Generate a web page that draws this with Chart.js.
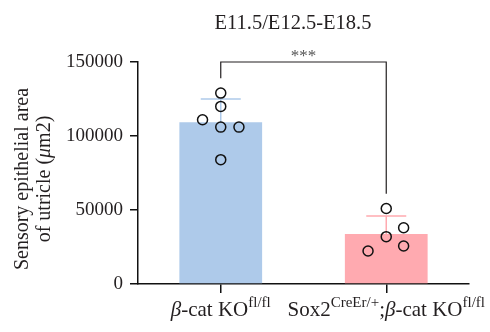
<!DOCTYPE html>
<html>
<head>
<meta charset="utf-8">
<script src="https://cdn.jsdelivr.net/npm/chart.js@4.4.1/dist/chart.umd.min.js"></script>
<style>
  html, body { margin: 0; padding: 0; background: #fff; }
  #wrap { width: 490px; height: 332px; position: relative; }
</style>
</head>
<body>
<div id="wrap"><canvas id="bars"></canvas></div>
<script>
// data
const categories = ['β-cat KO^fl/fl', 'Sox2^CreEr/+;β-cat KO^fl/fl'];
const means = [109300, 33800];
const sds = [15700, 12200];
const pointsA = [129000, 120000, 111000, 106000, 106000, 84000];
const jitterA = [0, 0, -0.11, 0, 0.11, 0];
const pointsB = [51000, 38000, 32000, 25700, 22300];
const jitterB = [0, 0.105, 0, 0.105, -0.11];
const yTicks = [0, 50000, 100000, 150000];
const titleText = 'E11.5/E12.5-E18.5';
const sig = { label: '***', top: 150000, leftEnd: 139000, rightEnd: 61000 };

const barColors = ['#aecaea', '#ffaab0'];
const FONT = '"Liberation Serif", "Times New Roman", serif';
const INK = '#231f20';

var pts = [];
pointsA.forEach(function (v, i) { pts.push({ x: 0 + jitterA[i], y: v }); });
pointsB.forEach(function (v, i) { pts.push({ x: 1 + jitterB[i], y: v }); });

// draws "text^sup" with italic beta, centred at x
function richText(ctx, str, x, y, size) {
  var parts = [];
  str.split(';').forEach(function (seg, si) {
    if (si > 0) parts.push({ t: ';', s: 0 });
    var bits = seg.split('^');
    bits[0].split(/(β)/).forEach(function (b) {
      if (b) parts.push({ t: b, s: b === 'β' ? 1 : 0 });
    });
    if (bits[1]) parts.push({ t: bits[1], s: 2 });
  });
  function font(p) {
    if (p.s === 1) return 'italic ' + size + 'px ' + FONT;
    if (p.s === 2) return Math.round(size * 0.7) + 'px ' + FONT;
    return size + 'px ' + FONT;
  }
  var w = 0;
  parts.forEach(function (p) { ctx.font = font(p); p.w = ctx.measureText(p.t).width; w += p.w; });
  var cx = x - w / 2;
  ctx.textAlign = 'left';
  ctx.textBaseline = 'alphabetic';
  parts.forEach(function (p) {
    ctx.font = font(p);
    ctx.fillText(p.t, cx, p.s === 2 ? y - size * 0.42 : y);
    cx += p.w;
  });
}

const extras = {
  id: 'extras',
  afterDatasetDraw: function (chart, args) {
    if (args.meta.type !== 'bar') return;
    var ctx = chart.ctx, x = chart.scales.x, y = chart.scales.y;
    ctx.save();
    ctx.lineWidth = 1.5;
    means.forEach(function (m, i) {
      var cx = x.getPixelForValue(i);
      var top = y.getPixelForValue(m + sds[i]);
      ctx.strokeStyle = barColors[i];
      ctx.beginPath();
      ctx.moveTo(cx, y.getPixelForValue(m));
      ctx.lineTo(cx, top);
      ctx.moveTo(cx - 20, top);
      ctx.lineTo(cx + 20, top);
      ctx.stroke();
    });
    ctx.restore();
  },
  afterDraw: function (chart) {
    var ctx = chart.ctx, x = chart.scales.x, y = chart.scales.y;
    ctx.save();
    ctx.fillStyle = INK;
    // title
    ctx.font = '20.5px ' + FONT;
    ctx.textAlign = 'center';
    ctx.textBaseline = 'alphabetic';
    ctx.fillText(titleText, 293, 29);
    // significance bracket
    var x0 = x.getPixelForValue(0), x1 = x.getPixelForValue(1);
    var yt = y.getPixelForValue(sig.top);
    ctx.strokeStyle = INK;
    ctx.lineWidth = 1.2;
    ctx.beginPath();
    ctx.moveTo(x0, y.getPixelForValue(sig.leftEnd));
    ctx.lineTo(x0, yt);
    ctx.lineTo(x1, yt);
    ctx.lineTo(x1, y.getPixelForValue(sig.rightEnd));
    ctx.stroke();
    ctx.font = '17px ' + FONT;
    ctx.fillStyle = '#555';
    ctx.fillText(sig.label, (x0 + x1) / 2, yt - 1);
    ctx.fillStyle = INK;
    // category labels
    categories.forEach(function (c, i) {
      richText(ctx, c, x.getPixelForValue(i), 316, 21);
    });
    // y axis title
    ctx.translate(0, 179);
    ctx.rotate(-Math.PI / 2);
    ctx.font = '20px ' + FONT;
    ctx.textAlign = 'center';
    ctx.fillText('Sensory epithelial area', 0, 28);
    var a = 'of utricle (', b = 'μ', c = 'm2)';
    var wa = ctx.measureText(a).width, wc = ctx.measureText(c).width;
    ctx.font = 'italic 20px ' + FONT;
    var wb = ctx.measureText(b).width;
    var sx = -(wa + wb + wc) / 2;
    ctx.textAlign = 'left';
    ctx.font = '20px ' + FONT;
    ctx.fillText(a, sx, 50);
    ctx.font = 'italic 20px ' + FONT;
    ctx.fillText(b, sx + wa, 50);
    ctx.font = '20px ' + FONT;
    ctx.fillText(c, sx + wa + wb, 50);
    ctx.restore();
  }
};

new Chart(document.getElementById('bars'), {
  type: 'bar',
  data: {
    labels: categories,
    datasets: [{
      data: means,
      backgroundColor: barColors,
      borderWidth: 0,
      barPercentage: 0.5,
      categoryPercentage: 1,
      grouped: false,
      order: 2
    }, {
      type: 'scatter',
      data: pts,
      xAxisID: 'xp',
      pointRadius: 5,
      pointBorderWidth: 1.5,
      pointBorderColor: '#111',
      pointBackgroundColor: 'rgba(0,0,0,0)',
      order: 1
    }]
  },
  options: {
    responsive: true,
    maintainAspectRatio: false,
    animation: false,
    layout: { padding: { left: 0, right: 21, top: 62, bottom: 0 } },
    plugins: {
      legend: { display: false },
      tooltip: { enabled: false },
      title: { display: false }
    },
    scales: {
      x: {
        border: { color: '#111', width: 1.5 },
        grid: { offset: false, drawOnChartArea: false, drawTicks: true, tickLength: 9, color: '#111', lineWidth: 1.5 },
        ticks: { color: 'rgba(0,0,0,0)', font: { family: FONT, size: 19 } },
        afterFit: function (s) { s.height = 48; }
      },
      xp: {
        type: 'linear',
        display: false,
        offset: false,
        min: -0.5,
        max: 1.5
      },
      y: {
        min: 0,
        max: 150000,
        afterBuildTicks: function (s) { s.ticks = yTicks.map(function (v) { return { value: v }; }); },
        border: { color: '#111', width: 1.5 },
        grid: { drawOnChartArea: false, drawTicks: true, tickLength: 8, color: '#111', lineWidth: 1.5 },
        ticks: {
          color: INK, padding: 7, font: { family: FONT, size: 19 },
          callback: function (v) { return String(v); }
        },
        afterFit: function (s) { s.width = 138; }
      }
    }
  },
  plugins: [extras]
});
</script>
</body>
</html>
